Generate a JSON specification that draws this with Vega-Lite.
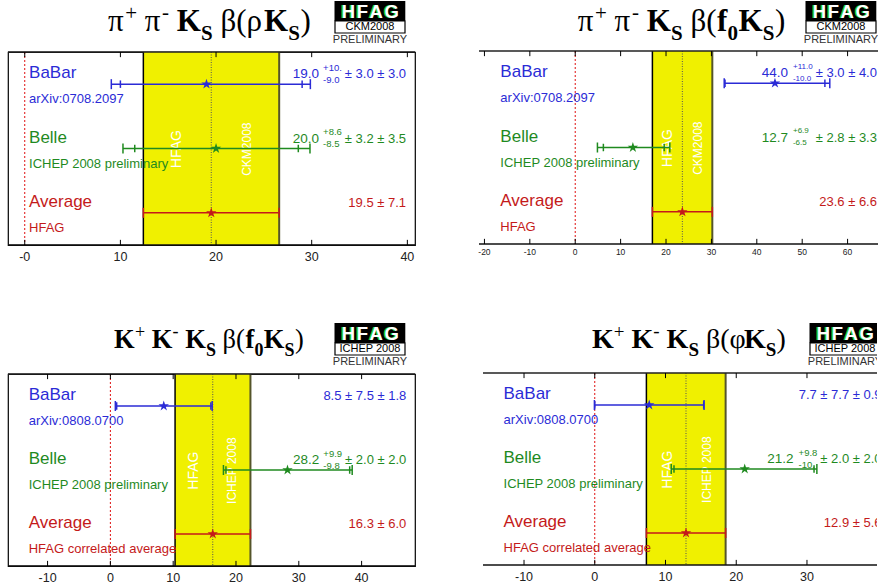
{
"$schema": "https://vega.github.io/schema/vega-lite/v6.json",
"padding": {"left": 6, "top": 0, "right": 0, "bottom": 0},
"config": {"view": {"stroke": null}, "font": "Liberation Sans"},
"datasets": {"rows": [
{"panel":"A","exp":"BaBar","name":"BaBar","ref":"arXiv:0708.2097","row":0.5,"val":19.0,"lo":9.05,"hi":29.86,"slo":10.0,"shi":29.0,"vm":"19.0","vu":"+10.","vd":"-9.0","vt":"± 3.0 ± 3.0"},
{"panel":"A","exp":"Belle","name":"Belle","ref":"ICHEP 2008 preliminary","row":1.5,"val":20.0,"lo":10.27,"hi":29.82,"slo":11.5,"shi":28.6,"vm":"20.0","vu":"+8.6","vd":"-8.5","vt":"± 3.2 ± 3.5"},
{"panel":"A","exp":"Average","name":"Average","ref":"HFAG","row":2.5,"val":19.5,"lo":12.4,"hi":26.6,"vm":"","vu":"","vd":"","vt":"19.5 ± 7.1"},
{"panel":"B","exp":"BaBar","name":"BaBar","ref":"arXiv:0708.2097","row":0.5,"val":44.0,"lo":32.82,"hi":56.08,"slo":33.0,"shi":55.0,"vm":"44.0","vu":"+11.0","vd":"-10.0","vt":"± 3.0 ± 4.0"},
{"panel":"B","exp":"Belle","name":"Belle","ref":"ICHEP 2008 preliminary","row":1.5,"val":12.7,"lo":4.89,"hi":20.84,"slo":6.2,"shi":19.6,"vm":"12.7","vu":"+6.9","vd":"-6.5","vt":"± 2.8 ± 3.3"},
{"panel":"B","exp":"Average","name":"Average","ref":"HFAG","row":2.5,"val":23.6,"lo":17.0,"hi":30.2,"vm":"","vu":"","vd":"","vt":"23.6 ± 6.6"},
{"panel":"C","exp":"BaBar","name":"BaBar","ref":"arXiv:0808.0700","row":0.5,"val":8.5,"lo":0.79,"hi":16.21,"slo":1.0,"shi":16.0,"vm":"","vu":"","vd":"","vt":"8.5 ± 7.5 ± 1.8"},
{"panel":"C","exp":"Belle","name":"Belle","ref":"ICHEP 2008 preliminary","row":1.5,"val":28.2,"lo":18.0,"hi":38.5,"slo":18.4,"shi":38.1,"vm":"28.2","vu":"+9.9","vd":"-9.8","vt":"± 2.0 ± 2.0"},
{"panel":"C","exp":"Average","name":"Average","ref":"HFAG correlated average","row":2.5,"val":16.3,"lo":10.3,"hi":22.3,"vm":"","vu":"","vd":"","vt":"16.3 ± 6.0"},
{"panel":"D","exp":"BaBar","name":"BaBar","ref":"arXiv:0808.0700","row":0.5,"val":7.7,"lo":-0.05,"hi":15.45,"slo":0.0,"shi":15.4,"vm":"","vu":"","vd":"","vt":"7.7 ± 7.7 ± 0.9"},
{"panel":"D","exp":"Belle","name":"Belle","ref":"ICHEP 2008 preliminary","row":1.5,"val":21.2,"lo":10.81,"hi":31.4,"slo":11.2,"shi":31.0,"vm":"21.2","vu":"+9.8","vd":"-10.","vt":"± 2.0 ± 2.0"},
{"panel":"D","exp":"Average","name":"Average","ref":"HFAG correlated average","row":2.5,"val":12.9,"lo":7.3,"hi":18.5,"vm":"","vu":"","vd":"","vt":"12.9 ± 5.6"}
],
"ticks": [
{"panel":"A","t":0,"lab":"-0"},{"panel":"A","t":10,"lab":"10"},{"panel":"A","t":20,"lab":"20"},{"panel":"A","t":30,"lab":"30"},{"panel":"A","t":40,"lab":"40"},
{"panel":"B","t":-20,"lab":"-20"},{"panel":"B","t":-10,"lab":"-10"},{"panel":"B","t":0,"lab":"0"},{"panel":"B","t":10,"lab":"10"},{"panel":"B","t":20,"lab":"20"},{"panel":"B","t":30,"lab":"30"},{"panel":"B","t":40,"lab":"40"},{"panel":"B","t":50,"lab":"50"},{"panel":"B","t":60,"lab":"60"},
{"panel":"C","t":-10,"lab":"-10"},{"panel":"C","t":0,"lab":"0"},{"panel":"C","t":10,"lab":"10"},{"panel":"C","t":20,"lab":"20"},{"panel":"C","t":30,"lab":"30"},{"panel":"C","t":40,"lab":"40"},
{"panel":"D","t":-10,"lab":"-10"},{"panel":"D","t":0,"lab":"0"},{"panel":"D","t":10,"lab":"10"},{"panel":"D","t":20,"lab":"20"},{"panel":"D","t":30,"lab":"30"}
]},
"spacing": 57,
"vconcat": [
{"spacing": 61, "hconcat": [
{"spacing": 2, "vconcat": [
{"width": 407, "height": 48, "data": {"values": [{}]}, "layer": [
{"mark": {"type": "rect", "color": "#000", "clip": true}, "encoding": {"x": {"datum": 326.5, "type": "quantitative", "scale": {"domain": [0, 407], "nice": false, "zero": false}, "axis": null}, "x2": {"datum": 397.3}, "y": {"datum": 1, "type": "quantitative", "scale": {"domain": [0, 48], "reverse": true, "nice": false, "zero": false}, "axis": {"title": null, "labels": false, "ticks": false, "domain": false, "grid": false, "minExtent": 4, "maxExtent": 4}}, "y2": {"datum": 21}}},
{"mark": {"type": "rect", "fill": "#fff", "stroke": "#000", "strokeWidth": 1.2, "clip": true}, "encoding": {"x": {"datum": 327, "axis": null}, "x2": {"datum": 397}, "y": {"datum": 21, "axis": null}, "y2": {"datum": 33}}},
{"mark": {"type": "text", "text": "H\u200aF\u200aA\u200aG", "fontWeight": "bold", "fontSize": 18.5, "color": "#22cc22", "align": "center", "baseline": "middle", "dx": -1.2, "clip": true}, "encoding": {"x": {"datum": 362, "axis": null}, "y": {"datum": 11.5, "axis": null}}},
{"mark": {"type": "text", "text": "H\u200aF\u200aA\u200aG", "fontWeight": "bold", "fontSize": 18.5, "color": "#ffffff", "align": "center", "baseline": "middle", "dx": 0.3, "clip": true}, "encoding": {"x": {"datum": 362, "axis": null}, "y": {"datum": 11.5, "axis": null}}},
{"mark": {"type": "text", "text": "CKM2008", "fontSize": 11, "color": "#000", "align": "center", "baseline": "middle", "clip": true}, "encoding": {"x": {"datum": 362, "axis": null}, "y": {"datum": 27.3, "axis": null}}},
{"mark": {"type": "text", "text": "PRELIMINARY", "fontSize": 11, "color": "#333", "align": "center", "baseline": "middle", "clip": true}, "encoding": {"x": {"datum": 362, "axis": null}, "y": {"datum": 40.3, "axis": null}}},
{"mark": {"type": "text", "text": "π", "font": "Liberation Serif", "fontSize": 31, "align": "left", "baseline": "alphabetic", "color": "#000", "clip": true}, "encoding": {"x": {"datum": 100, "axis": null}, "y": {"datum": 31, "axis": null}}},
{"mark": {"type": "text", "text": "+", "font": "Liberation Serif", "fontSize": 21, "align": "left", "baseline": "alphabetic", "color": "#000", "clip": true}, "encoding": {"x": {"datum": 117.3, "axis": null}, "y": {"datum": 20, "axis": null}}},
{"mark": {"type": "text", "text": "π", "font": "Liberation Serif", "fontSize": 31, "align": "left", "baseline": "alphabetic", "color": "#000", "clip": true}, "encoding": {"x": {"datum": 136.8, "axis": null}, "y": {"datum": 31, "axis": null}}},
{"mark": {"type": "text", "text": "-", "font": "Liberation Serif", "fontSize": 21, "align": "left", "baseline": "alphabetic", "color": "#000", "clip": true}, "encoding": {"x": {"datum": 154, "axis": null}, "y": {"datum": 18.5, "axis": null}}},
{"mark": {"type": "text", "text": "K", "font": "Liberation Serif", "fontWeight": "bold", "fontSize": 31, "align": "left", "baseline": "alphabetic", "color": "#000", "clip": true}, "encoding": {"x": {"datum": 168.8, "axis": null}, "y": {"datum": 31, "axis": null}}},
{"mark": {"type": "text", "text": "S", "font": "Liberation Serif", "fontWeight": "bold", "fontSize": 21, "align": "left", "baseline": "alphabetic", "color": "#000", "clip": true}, "encoding": {"x": {"datum": 193, "axis": null}, "y": {"datum": 40, "axis": null}}},
{"mark": {"type": "text", "text": "β(ρ", "font": "Liberation Serif", "fontSize": 31, "align": "left", "baseline": "alphabetic", "color": "#000", "clip": true}, "encoding": {"x": {"datum": 212.5, "axis": null}, "y": {"datum": 31, "axis": null}}},
{"mark": {"type": "text", "text": "K", "font": "Liberation Serif", "fontWeight": "bold", "fontSize": 31, "align": "left", "baseline": "alphabetic", "color": "#000", "clip": true}, "encoding": {"x": {"datum": 256, "axis": null}, "y": {"datum": 31, "axis": null}}},
{"mark": {"type": "text", "text": "S", "font": "Liberation Serif", "fontWeight": "bold", "fontSize": 21, "align": "left", "baseline": "alphabetic", "color": "#000", "clip": true}, "encoding": {"x": {"datum": 280.3, "axis": null}, "y": {"datum": 40, "axis": null}}},
{"mark": {"type": "text", "text": ")", "font": "Liberation Serif", "fontSize": 31, "align": "left", "baseline": "alphabetic", "color": "#000", "clip": true}, "encoding": {"x": {"datum": 292.5, "axis": null}, "y": {"datum": 31, "axis": null}}}
]},
{"width": 407, "height": 193, "view": {"stroke": "#000", "strokeWidth": 1.2}, "data": {"name": "rows"}, "transform": [{"filter": {"field": "panel", "equal": "A"}}], "layer": [
{"transform": [{"filter": {"field": "exp", "equal": "Average"}}], "mark": {"type": "rect", "color": "#f0f000"}, "encoding": {"x": {"field": "lo", "type": "quantitative", "scale": {"domain": [-1.75, 40.8], "nice": false, "zero": false}, "axis": null}, "x2": {"field": "hi"}}},
{"transform": [{"filter": {"field": "exp", "equal": "Average"}}], "mark": {"type": "rule", "color": "#000", "strokeWidth": 1.5}, "encoding": {"x": {"field": "lo", "type": "quantitative", "axis": null}}},
{"transform": [{"filter": {"field": "exp", "equal": "Average"}}], "mark": {"type": "rule", "color": "#55552a", "strokeWidth": 2}, "encoding": {"x": {"field": "hi", "type": "quantitative", "axis": null}}},
{"transform": [{"filter": {"field": "exp", "equal": "Average"}}], "mark": {"type": "rule", "color": "#555", "strokeWidth": 1, "strokeDash": [1, 1.5]}, "encoding": {"x": {"field": "val", "type": "quantitative", "axis": null}}},
{"transform": [{"filter": {"field": "exp", "equal": "Average"}}], "mark": {"type": "rule", "color": "#e01010", "strokeWidth": 1, "strokeDash": [2, 2]}, "encoding": {"x": {"datum": 0, "type": "quantitative", "axis": null}}},
{"transform": [{"filter": {"field": "exp", "equal": "Average"}}], "mark": {"type": "text", "text": "HFAG", "angle": 270, "color": "#fff", "fontSize": 14, "align": "center", "baseline": "middle"}, "encoding": {"x": {"datum": 15.9, "axis": null}, "y": {"datum": 1.51, "axis": null}}},
{"transform": [{"filter": {"field": "exp", "equal": "Average"}}], "mark": {"type": "text", "text": "CKM2008", "angle": 270, "color": "#fff", "fontSize": 12, "align": "center", "baseline": "middle"}, "encoding": {"x": {"datum": 23.2, "axis": null}, "y": {"datum": 1.51, "axis": null}}},
{"transform": [{"filter": {"field": "exp", "equal": "Average"}}], "mark": {"type": "rule", "color": "#222", "strokeWidth": 1.5}, "encoding": {"y": {"datum": 0, "axis": null}}},
{"transform": [{"filter": {"field": "exp", "equal": "Average"}}], "mark": {"type": "rule", "color": "#111", "strokeWidth": 1.5}, "encoding": {"y": {"datum": 3, "axis": null}}},
{"data": {"name": "ticks"}, "transform": [{"filter": {"field": "panel", "equal": "A"}}], "mark": {"type": "rule", "color": "#000", "strokeWidth": 1}, "encoding": {"x": {"field": "t", "type": "quantitative", "axis": null}, "y": {"datum": 3, "axis": null}, "y2": {"datum": 2.92}}},
{"data": {"name": "ticks"}, "transform": [{"filter": {"field": "panel", "equal": "A"}}], "mark": {"type": "rule", "color": "#000", "strokeWidth": 1}, "encoding": {"x": {"field": "t", "type": "quantitative", "axis": null}, "y": {"datum": 0, "axis": null}, "y2": {"datum": 0.08}}},
{"data": {"name": "ticks"}, "transform": [{"filter": {"field": "panel", "equal": "A"}}], "mark": {"type": "text", "align": "center", "baseline": "top", "dy": 6, "fontSize": 12.5, "color": "#222"}, "encoding": {"x": {"field": "t", "type": "quantitative", "axis": null}, "y": {"datum": 3, "axis": null}, "text": {"field": "lab"}}},
{"mark": {"type": "rule", "strokeWidth": 1.5}, "encoding": {"x": {"field": "lo", "type": "quantitative", "axis": null}, "x2": {"field": "hi"}, "y": {"field": "row", "type": "quantitative", "scale": {"domain": [0, 3], "reverse": true, "nice": false, "zero": false}, "axis": {"title": null, "labels": false, "ticks": false, "grid": false, "domain": false, "minExtent": 4, "maxExtent": 4}}, "color": {"field": "exp", "type": "nominal", "scale": {"domain": ["BaBar", "Belle", "Average"], "range": ["#2b2bd6", "#1f8a1f", "#c41a1a"]}, "legend": null}}},
{"mark": {"type": "point", "shape": "M0,-1L0,1", "filled": false, "size": 100, "strokeWidth": 1.5, "opacity": 1}, "encoding": {"x": {"field": "lo", "type": "quantitative", "axis": null}, "y": {"field": "row", "type": "quantitative", "axis": null}, "color": {"field": "exp", "type": "nominal", "legend": null}}},
{"mark": {"type": "point", "shape": "M0,-1L0,1", "filled": false, "size": 100, "strokeWidth": 1.5, "opacity": 1}, "encoding": {"x": {"field": "hi", "type": "quantitative", "axis": null}, "y": {"field": "row", "type": "quantitative", "axis": null}, "color": {"field": "exp", "type": "nominal", "legend": null}}},
{"mark": {"type": "point", "shape": "M0,-1L0,1", "filled": false, "size": 56, "strokeWidth": 1.5, "opacity": 1}, "encoding": {"x": {"field": "slo", "type": "quantitative", "axis": null}, "y": {"field": "row", "type": "quantitative", "axis": null}, "color": {"field": "exp", "type": "nominal", "legend": null}}},
{"mark": {"type": "point", "shape": "M0,-1L0,1", "filled": false, "size": 56, "strokeWidth": 1.5, "opacity": 1}, "encoding": {"x": {"field": "shi", "type": "quantitative", "axis": null}, "y": {"field": "row", "type": "quantitative", "axis": null}, "color": {"field": "exp", "type": "nominal", "legend": null}}},
{"mark": {"type": "point", "shape": "M0,-1L0.2245,-0.309L0.951,-0.309L0.363,0.118L0.588,0.809L0,0.382L-0.588,0.809L-0.363,0.118L-0.951,-0.309L-0.2245,-0.309Z", "filled": true, "size": 120, "opacity": 1}, "encoding": {"x": {"field": "val", "type": "quantitative", "axis": null}, "y": {"field": "row", "type": "quantitative", "axis": null}, "color": {"field": "exp", "type": "nominal", "legend": null}}},
{"mark": {"type": "text", "align": "left", "baseline": "middle", "dy": -11, "fontSize": 17}, "encoding": {"x": {"datum": 0.45, "axis": null}, "y": {"field": "row", "type": "quantitative", "axis": null}, "text": {"field": "name"}, "color": {"field": "exp", "type": "nominal", "legend": null}}},
{"mark": {"type": "text", "align": "left", "baseline": "middle", "dy": 15, "fontSize": 13}, "encoding": {"x": {"datum": 0.45, "axis": null}, "y": {"field": "row", "type": "quantitative", "axis": null}, "text": {"field": "ref"}, "color": {"field": "exp", "type": "nominal", "legend": null}}},
{"mark": {"type": "text", "align": "right", "baseline": "middle", "dx": -87, "dy": -10, "fontSize": 13.5}, "encoding": {"x": {"datum": 39.87, "axis": null}, "y": {"field": "row", "type": "quantitative", "axis": null}, "text": {"field": "vm"}, "color": {"field": "exp", "type": "nominal", "legend": null}}},
{"mark": {"type": "text", "align": "left", "baseline": "middle", "dx": -83, "dy": -16.5, "fontSize": 9.5}, "encoding": {"x": {"datum": 39.87, "axis": null}, "y": {"field": "row", "type": "quantitative", "axis": null}, "text": {"field": "vu"}, "color": {"field": "exp", "type": "nominal", "legend": null}}},
{"mark": {"type": "text", "align": "left", "baseline": "middle", "dx": -83, "dy": -4.5, "fontSize": 9.5}, "encoding": {"x": {"datum": 39.87, "axis": null}, "y": {"field": "row", "type": "quantitative", "axis": null}, "text": {"field": "vd"}, "color": {"field": "exp", "type": "nominal", "legend": null}}},
{"mark": {"type": "text", "align": "right", "baseline": "middle", "dy": -10, "fontSize": 13}, "encoding": {"x": {"datum": 39.87, "axis": null}, "y": {"field": "row", "type": "quantitative", "axis": null}, "text": {"field": "vt"}, "color": {"field": "exp", "type": "nominal", "legend": null}}}
]}
]},
{"spacing": 2, "vconcat": [
{"width": 399, "height": 48, "data": {"values": [{}]}, "layer": [
{"mark": {"type": "rect", "color": "#000", "clip": true}, "encoding": {"x": {"datum": 326.5, "type": "quantitative", "scale": {"domain": [0, 399], "nice": false, "zero": false}, "axis": null}, "x2": {"datum": 397.3}, "y": {"datum": 1, "type": "quantitative", "scale": {"domain": [0, 48], "reverse": true, "nice": false, "zero": false}, "axis": null}, "y2": {"datum": 21}}},
{"mark": {"type": "rect", "fill": "#fff", "stroke": "#000", "strokeWidth": 1.2, "clip": true}, "encoding": {"x": {"datum": 327, "axis": null}, "x2": {"datum": 397}, "y": {"datum": 21, "axis": null}, "y2": {"datum": 33}}},
{"mark": {"type": "text", "text": "H\u200aF\u200aA\u200aG", "fontWeight": "bold", "fontSize": 18.5, "color": "#22cc22", "align": "center", "baseline": "middle", "dx": -1.2, "clip": true}, "encoding": {"x": {"datum": 362, "axis": null}, "y": {"datum": 11.5, "axis": null}}},
{"mark": {"type": "text", "text": "H\u200aF\u200aA\u200aG", "fontWeight": "bold", "fontSize": 18.5, "color": "#ffffff", "align": "center", "baseline": "middle", "dx": 0.3, "clip": true}, "encoding": {"x": {"datum": 362, "axis": null}, "y": {"datum": 11.5, "axis": null}}},
{"mark": {"type": "text", "text": "CKM2008", "fontSize": 11, "color": "#000", "align": "center", "baseline": "middle", "clip": true}, "encoding": {"x": {"datum": 362, "axis": null}, "y": {"datum": 27.3, "axis": null}}},
{"mark": {"type": "text", "text": "PRELIMINARY", "fontSize": 11, "color": "#333", "align": "center", "baseline": "middle", "clip": true}, "encoding": {"x": {"datum": 362, "axis": null}, "y": {"datum": 40.3, "axis": null}}},
{"mark": {"type": "text", "text": "π", "font": "Liberation Serif", "fontSize": 31, "align": "left", "baseline": "alphabetic", "color": "#000", "clip": true}, "encoding": {"x": {"datum": 98.7, "axis": null}, "y": {"datum": 31, "axis": null}}},
{"mark": {"type": "text", "text": "+", "font": "Liberation Serif", "fontSize": 21, "align": "left", "baseline": "alphabetic", "color": "#000", "clip": true}, "encoding": {"x": {"datum": 116, "axis": null}, "y": {"datum": 20, "axis": null}}},
{"mark": {"type": "text", "text": "π", "font": "Liberation Serif", "fontSize": 31, "align": "left", "baseline": "alphabetic", "color": "#000", "clip": true}, "encoding": {"x": {"datum": 135.5, "axis": null}, "y": {"datum": 31, "axis": null}}},
{"mark": {"type": "text", "text": "-", "font": "Liberation Serif", "fontSize": 21, "align": "left", "baseline": "alphabetic", "color": "#000", "clip": true}, "encoding": {"x": {"datum": 153, "axis": null}, "y": {"datum": 18.5, "axis": null}}},
{"mark": {"type": "text", "text": "K", "font": "Liberation Serif", "fontWeight": "bold", "fontSize": 31, "align": "left", "baseline": "alphabetic", "color": "#000", "clip": true}, "encoding": {"x": {"datum": 167.8, "axis": null}, "y": {"datum": 31, "axis": null}}},
{"mark": {"type": "text", "text": "S", "font": "Liberation Serif", "fontWeight": "bold", "fontSize": 21, "align": "left", "baseline": "alphabetic", "color": "#000", "clip": true}, "encoding": {"x": {"datum": 192, "axis": null}, "y": {"datum": 40, "axis": null}}},
{"mark": {"type": "text", "text": "β(", "font": "Liberation Serif", "fontSize": 31, "align": "left", "baseline": "alphabetic", "color": "#000", "clip": true}, "encoding": {"x": {"datum": 211.5, "axis": null}, "y": {"datum": 31, "axis": null}}},
{"mark": {"type": "text", "text": "f", "font": "Liberation Serif", "fontWeight": "bold", "fontSize": 31, "align": "left", "baseline": "alphabetic", "color": "#000", "clip": true}, "encoding": {"x": {"datum": 238, "axis": null}, "y": {"datum": 31, "axis": null}}},
{"mark": {"type": "text", "text": "0", "font": "Liberation Serif", "fontWeight": "bold", "fontSize": 21, "align": "left", "baseline": "alphabetic", "color": "#000", "clip": true}, "encoding": {"x": {"datum": 248.5, "axis": null}, "y": {"datum": 40, "axis": null}}},
{"mark": {"type": "text", "text": "K", "font": "Liberation Serif", "fontWeight": "bold", "fontSize": 31, "align": "left", "baseline": "alphabetic", "color": "#000", "clip": true}, "encoding": {"x": {"datum": 259.5, "axis": null}, "y": {"datum": 31, "axis": null}}},
{"mark": {"type": "text", "text": "S", "font": "Liberation Serif", "fontWeight": "bold", "fontSize": 21, "align": "left", "baseline": "alphabetic", "color": "#000", "clip": true}, "encoding": {"x": {"datum": 283.8, "axis": null}, "y": {"datum": 40, "axis": null}}},
{"mark": {"type": "text", "text": ")", "font": "Liberation Serif", "fontSize": 31, "align": "left", "baseline": "alphabetic", "color": "#000", "clip": true}, "encoding": {"x": {"datum": 296, "axis": null}, "y": {"datum": 31, "axis": null}}}
]},
{"width": 399, "height": 193, "data": {"name": "rows"}, "transform": [{"filter": {"field": "panel", "equal": "B"}}], "layer": [
{"transform": [{"filter": {"field": "exp", "equal": "Average"}}], "mark": {"type": "rect", "color": "#f0f000"}, "encoding": {"x": {"field": "lo", "type": "quantitative", "scale": {"domain": [-21.2, 66.7], "nice": false, "zero": false}, "axis": null}, "x2": {"field": "hi"}}},
{"transform": [{"filter": {"field": "exp", "equal": "Average"}}], "mark": {"type": "rule", "color": "#000", "strokeWidth": 1.5}, "encoding": {"x": {"field": "lo", "type": "quantitative", "axis": null}}},
{"transform": [{"filter": {"field": "exp", "equal": "Average"}}], "mark": {"type": "rule", "color": "#55552a", "strokeWidth": 2}, "encoding": {"x": {"field": "hi", "type": "quantitative", "axis": null}}},
{"transform": [{"filter": {"field": "exp", "equal": "Average"}}], "mark": {"type": "rule", "color": "#555", "strokeWidth": 1, "strokeDash": [1, 1.5]}, "encoding": {"x": {"field": "val", "type": "quantitative", "axis": null}}},
{"transform": [{"filter": {"field": "exp", "equal": "Average"}}], "mark": {"type": "rule", "color": "#e01010", "strokeWidth": 1, "strokeDash": [2, 2]}, "encoding": {"x": {"datum": 0, "type": "quantitative", "axis": null}}},
{"transform": [{"filter": {"field": "exp", "equal": "Average"}}], "mark": {"type": "text", "text": "HFAG", "angle": 270, "color": "#fff", "fontSize": 14, "align": "center", "baseline": "middle"}, "encoding": {"x": {"datum": 20.5, "axis": null}, "y": {"datum": 1.51, "axis": null}}},
{"transform": [{"filter": {"field": "exp", "equal": "Average"}}], "mark": {"type": "text", "text": "CKM2008", "angle": 270, "color": "#fff", "fontSize": 12, "align": "center", "baseline": "middle"}, "encoding": {"x": {"datum": 27.1, "axis": null}, "y": {"datum": 1.51, "axis": null}}},
{"transform": [{"filter": {"field": "exp", "equal": "Average"}}], "mark": {"type": "rule", "color": "#222", "strokeWidth": 1.5}, "encoding": {"y": {"datum": 0, "axis": null}}},
{"transform": [{"filter": {"field": "exp", "equal": "Average"}}], "mark": {"type": "rule", "color": "#111", "strokeWidth": 1.5}, "encoding": {"y": {"datum": 3, "axis": null}}},
{"data": {"name": "ticks"}, "transform": [{"filter": {"field": "panel", "equal": "B"}}], "mark": {"type": "rule", "color": "#000", "strokeWidth": 1}, "encoding": {"x": {"field": "t", "type": "quantitative", "axis": null}, "y": {"datum": 3, "axis": null}, "y2": {"datum": 2.92}}},
{"data": {"name": "ticks"}, "transform": [{"filter": {"field": "panel", "equal": "B"}}], "mark": {"type": "rule", "color": "#000", "strokeWidth": 1}, "encoding": {"x": {"field": "t", "type": "quantitative", "axis": null}, "y": {"datum": 0, "axis": null}, "y2": {"datum": 0.08}}},
{"data": {"name": "ticks"}, "transform": [{"filter": {"field": "panel", "equal": "B"}}], "mark": {"type": "text", "align": "center", "baseline": "top", "dy": 4, "fontSize": 8.5, "color": "#222"}, "encoding": {"x": {"field": "t", "type": "quantitative", "axis": null}, "y": {"datum": 3, "axis": null}, "text": {"field": "lab"}}},
{"mark": {"type": "rule", "strokeWidth": 1.5}, "encoding": {"x": {"field": "lo", "type": "quantitative", "axis": null}, "x2": {"field": "hi"}, "y": {"field": "row", "type": "quantitative", "scale": {"domain": [0, 3], "reverse": true, "nice": false, "zero": false}, "axis": {"title": null, "labels": false, "ticks": false, "grid": false, "domain": true, "domainColor": "#000", "domainWidth": 1.2}}, "color": {"field": "exp", "type": "nominal", "scale": {"domain": ["BaBar", "Belle", "Average"], "range": ["#2b2bd6", "#1f8a1f", "#c41a1a"]}, "legend": null}}},
{"mark": {"type": "point", "shape": "M0,-1L0,1", "filled": false, "size": 100, "strokeWidth": 1.5, "opacity": 1}, "encoding": {"x": {"field": "lo", "type": "quantitative", "axis": null}, "y": {"field": "row", "type": "quantitative", "axis": null}, "color": {"field": "exp", "type": "nominal", "legend": null}}},
{"mark": {"type": "point", "shape": "M0,-1L0,1", "filled": false, "size": 100, "strokeWidth": 1.5, "opacity": 1}, "encoding": {"x": {"field": "hi", "type": "quantitative", "axis": null}, "y": {"field": "row", "type": "quantitative", "axis": null}, "color": {"field": "exp", "type": "nominal", "legend": null}}},
{"mark": {"type": "point", "shape": "M0,-1L0,1", "filled": false, "size": 56, "strokeWidth": 1.5, "opacity": 1}, "encoding": {"x": {"field": "slo", "type": "quantitative", "axis": null}, "y": {"field": "row", "type": "quantitative", "axis": null}, "color": {"field": "exp", "type": "nominal", "legend": null}}},
{"mark": {"type": "point", "shape": "M0,-1L0,1", "filled": false, "size": 56, "strokeWidth": 1.5, "opacity": 1}, "encoding": {"x": {"field": "shi", "type": "quantitative", "axis": null}, "y": {"field": "row", "type": "quantitative", "axis": null}, "color": {"field": "exp", "type": "nominal", "legend": null}}},
{"mark": {"type": "point", "shape": "M0,-1L0.2245,-0.309L0.951,-0.309L0.363,0.118L0.588,0.809L0,0.382L-0.588,0.809L-0.363,0.118L-0.951,-0.309L-0.2245,-0.309Z", "filled": true, "size": 120, "opacity": 1}, "encoding": {"x": {"field": "val", "type": "quantitative", "axis": null}, "y": {"field": "row", "type": "quantitative", "axis": null}, "color": {"field": "exp", "type": "nominal", "legend": null}}},
{"mark": {"type": "text", "align": "left", "baseline": "middle", "dy": -11, "fontSize": 17, "clip": true}, "encoding": {"x": {"datum": -16.5, "axis": null}, "y": {"field": "row", "type": "quantitative", "axis": null}, "text": {"field": "name"}, "color": {"field": "exp", "type": "nominal", "legend": null}}},
{"mark": {"type": "text", "align": "left", "baseline": "middle", "dy": 15, "fontSize": 13, "clip": true}, "encoding": {"x": {"datum": -16.5, "axis": null}, "y": {"field": "row", "type": "quantitative", "axis": null}, "text": {"field": "ref"}, "color": {"field": "exp", "type": "nominal", "legend": null}}},
{"mark": {"type": "text", "align": "right", "baseline": "middle", "dx": -89, "dy": -10, "fontSize": 13.5, "clip": true}, "encoding": {"x": {"datum": 66.47, "axis": null}, "y": {"field": "row", "type": "quantitative", "axis": null}, "text": {"field": "vm"}, "color": {"field": "exp", "type": "nominal", "legend": null}}},
{"mark": {"type": "text", "align": "left", "baseline": "middle", "dx": -84, "dy": -16.5, "fontSize": 8, "clip": true}, "encoding": {"x": {"datum": 66.47, "axis": null}, "y": {"field": "row", "type": "quantitative", "axis": null}, "text": {"field": "vu"}, "color": {"field": "exp", "type": "nominal", "legend": null}}},
{"mark": {"type": "text", "align": "left", "baseline": "middle", "dx": -84, "dy": -4.5, "fontSize": 8, "clip": true}, "encoding": {"x": {"datum": 66.47, "axis": null}, "y": {"field": "row", "type": "quantitative", "axis": null}, "text": {"field": "vd"}, "color": {"field": "exp", "type": "nominal", "legend": null}}},
{"mark": {"type": "text", "align": "right", "baseline": "middle", "dy": -10, "fontSize": 13, "clip": true}, "encoding": {"x": {"datum": 66.47, "axis": null}, "y": {"field": "row", "type": "quantitative", "axis": null}, "text": {"field": "vt"}, "color": {"field": "exp", "type": "nominal", "legend": null}}}
]}
]}
]},
{"spacing": 65, "hconcat": [
{"spacing": 2, "vconcat": [
{"width": 407, "height": 48, "data": {"values": [{}]}, "layer": [
{"mark": {"type": "rect", "color": "#000", "clip": true}, "encoding": {"x": {"datum": 326.5, "type": "quantitative", "scale": {"domain": [0, 407], "nice": false, "zero": false}, "axis": null}, "x2": {"datum": 397.3}, "y": {"datum": 1, "type": "quantitative", "scale": {"domain": [0, 48], "reverse": true, "nice": false, "zero": false}, "axis": null}, "y2": {"datum": 21}}},
{"mark": {"type": "rect", "fill": "#fff", "stroke": "#000", "strokeWidth": 1.2, "clip": true}, "encoding": {"x": {"datum": 327, "axis": null}, "x2": {"datum": 397}, "y": {"datum": 21, "axis": null}, "y2": {"datum": 33}}},
{"mark": {"type": "text", "text": "H\u200aF\u200aA\u200aG", "fontWeight": "bold", "fontSize": 18.5, "color": "#22cc22", "align": "center", "baseline": "middle", "dx": -1.2, "clip": true}, "encoding": {"x": {"datum": 362, "axis": null}, "y": {"datum": 11.5, "axis": null}}},
{"mark": {"type": "text", "text": "H\u200aF\u200aA\u200aG", "fontWeight": "bold", "fontSize": 18.5, "color": "#ffffff", "align": "center", "baseline": "middle", "dx": 0.3, "clip": true}, "encoding": {"x": {"datum": 362, "axis": null}, "y": {"datum": 11.5, "axis": null}}},
{"mark": {"type": "text", "text": "ICHEP 2008", "fontSize": 11, "color": "#000", "align": "center", "baseline": "middle", "clip": true}, "encoding": {"x": {"datum": 362, "axis": null}, "y": {"datum": 27.3, "axis": null}}},
{"mark": {"type": "text", "text": "PRELIMINARY", "fontSize": 11, "color": "#333", "align": "center", "baseline": "middle", "clip": true}, "encoding": {"x": {"datum": 362, "axis": null}, "y": {"datum": 40.3, "axis": null}}},
{"mark": {"type": "text", "text": "K", "font": "Liberation Serif", "fontWeight": "bold", "fontSize": 26.5, "align": "left", "baseline": "alphabetic", "color": "#000", "clip": true}, "encoding": {"x": {"datum": 106, "axis": null}, "y": {"datum": 26, "axis": null}}},
{"mark": {"type": "text", "text": "+", "font": "Liberation Serif", "fontSize": 18, "align": "left", "baseline": "alphabetic", "color": "#000", "clip": true}, "encoding": {"x": {"datum": 126.9, "axis": null}, "y": {"datum": 15.5, "axis": null}}},
{"mark": {"type": "text", "text": "K", "font": "Liberation Serif", "fontWeight": "bold", "fontSize": 26.5, "align": "left", "baseline": "alphabetic", "color": "#000", "clip": true}, "encoding": {"x": {"datum": 143.7, "axis": null}, "y": {"datum": 26, "axis": null}}},
{"mark": {"type": "text", "text": "-", "font": "Liberation Serif", "fontSize": 18, "align": "left", "baseline": "alphabetic", "color": "#000", "clip": true}, "encoding": {"x": {"datum": 164.6, "axis": null}, "y": {"datum": 14.5, "axis": null}}},
{"mark": {"type": "text", "text": "K", "font": "Liberation Serif", "fontWeight": "bold", "fontSize": 26.5, "align": "left", "baseline": "alphabetic", "color": "#000", "clip": true}, "encoding": {"x": {"datum": 177.2, "axis": null}, "y": {"datum": 26, "axis": null}}},
{"mark": {"type": "text", "text": "S", "font": "Liberation Serif", "fontWeight": "bold", "fontSize": 18, "align": "left", "baseline": "alphabetic", "color": "#000", "clip": true}, "encoding": {"x": {"datum": 198, "axis": null}, "y": {"datum": 34, "axis": null}}},
{"mark": {"type": "text", "text": "β(", "font": "Liberation Serif", "fontSize": 26.5, "align": "left", "baseline": "alphabetic", "color": "#000", "clip": true}, "encoding": {"x": {"datum": 214.6, "axis": null}, "y": {"datum": 26, "axis": null}}},
{"mark": {"type": "text", "text": "f", "font": "Liberation Serif", "fontWeight": "bold", "fontSize": 26.5, "align": "left", "baseline": "alphabetic", "color": "#000", "clip": true}, "encoding": {"x": {"datum": 237.4, "axis": null}, "y": {"datum": 26, "axis": null}}},
{"mark": {"type": "text", "text": "0", "font": "Liberation Serif", "fontWeight": "bold", "fontSize": 18, "align": "left", "baseline": "alphabetic", "color": "#000", "clip": true}, "encoding": {"x": {"datum": 246.4, "axis": null}, "y": {"datum": 34, "axis": null}}},
{"mark": {"type": "text", "text": "K", "font": "Liberation Serif", "fontWeight": "bold", "fontSize": 26.5, "align": "left", "baseline": "alphabetic", "color": "#000", "clip": true}, "encoding": {"x": {"datum": 255.7, "axis": null}, "y": {"datum": 26, "axis": null}}},
{"mark": {"type": "text", "text": "S", "font": "Liberation Serif", "fontWeight": "bold", "fontSize": 18, "align": "left", "baseline": "alphabetic", "color": "#000", "clip": true}, "encoding": {"x": {"datum": 276.5, "axis": null}, "y": {"datum": 34, "axis": null}}},
{"mark": {"type": "text", "text": ")", "font": "Liberation Serif", "fontSize": 26.5, "align": "left", "baseline": "alphabetic", "color": "#000", "clip": true}, "encoding": {"x": {"datum": 287, "axis": null}, "y": {"datum": 26, "axis": null}}}
]},
{"width": 407, "height": 192, "view": {"stroke": "#000", "strokeWidth": 1.2}, "data": {"name": "rows"}, "transform": [{"filter": {"field": "panel", "equal": "C"}}], "layer": [
{"transform": [{"filter": {"field": "exp", "equal": "Average"}}], "mark": {"type": "rect", "color": "#f0f000"}, "encoding": {"x": {"field": "lo", "type": "quantitative", "scale": {"domain": [-16.3, 48.5], "nice": false, "zero": false}, "axis": null}, "x2": {"field": "hi"}}},
{"transform": [{"filter": {"field": "exp", "equal": "Average"}}], "mark": {"type": "rule", "color": "#000", "strokeWidth": 1.5}, "encoding": {"x": {"field": "lo", "type": "quantitative", "axis": null}}},
{"transform": [{"filter": {"field": "exp", "equal": "Average"}}], "mark": {"type": "rule", "color": "#55552a", "strokeWidth": 2}, "encoding": {"x": {"field": "hi", "type": "quantitative", "axis": null}}},
{"transform": [{"filter": {"field": "exp", "equal": "Average"}}], "mark": {"type": "rule", "color": "#555", "strokeWidth": 1, "strokeDash": [1, 1.5]}, "encoding": {"x": {"field": "val", "type": "quantitative", "axis": null}}},
{"transform": [{"filter": {"field": "exp", "equal": "Average"}}], "mark": {"type": "rule", "color": "#e01010", "strokeWidth": 1, "strokeDash": [2, 2]}, "encoding": {"x": {"datum": 0, "type": "quantitative", "axis": null}}},
{"transform": [{"filter": {"field": "exp", "equal": "Average"}}], "mark": {"type": "text", "text": "HFAG", "angle": 270, "color": "#fff", "fontSize": 14, "align": "center", "baseline": "middle"}, "encoding": {"x": {"datum": 13.3, "axis": null}, "y": {"datum": 1.51, "axis": null}}},
{"transform": [{"filter": {"field": "exp", "equal": "Average"}}], "mark": {"type": "text", "text": "ICHEP 2008", "angle": 270, "color": "#fff", "fontSize": 12, "align": "center", "baseline": "middle"}, "encoding": {"x": {"datum": 19.3, "axis": null}, "y": {"datum": 1.51, "axis": null}}},
{"transform": [{"filter": {"field": "exp", "equal": "Average"}}], "mark": {"type": "rule", "color": "#222", "strokeWidth": 1.5}, "encoding": {"y": {"datum": 0, "axis": null}}},
{"transform": [{"filter": {"field": "exp", "equal": "Average"}}], "mark": {"type": "rule", "color": "#111", "strokeWidth": 1.5}, "encoding": {"y": {"datum": 3, "axis": null}}},
{"data": {"name": "ticks"}, "transform": [{"filter": {"field": "panel", "equal": "C"}}], "mark": {"type": "rule", "color": "#000", "strokeWidth": 1}, "encoding": {"x": {"field": "t", "type": "quantitative", "axis": null}, "y": {"datum": 3, "axis": null}, "y2": {"datum": 2.92}}},
{"data": {"name": "ticks"}, "transform": [{"filter": {"field": "panel", "equal": "C"}}], "mark": {"type": "rule", "color": "#000", "strokeWidth": 1}, "encoding": {"x": {"field": "t", "type": "quantitative", "axis": null}, "y": {"datum": 0, "axis": null}, "y2": {"datum": 0.08}}},
{"data": {"name": "ticks"}, "transform": [{"filter": {"field": "panel", "equal": "C"}}], "mark": {"type": "text", "align": "center", "baseline": "top", "dy": 6, "fontSize": 12.5, "color": "#222"}, "encoding": {"x": {"field": "t", "type": "quantitative", "axis": null}, "y": {"datum": 3, "axis": null}, "text": {"field": "lab"}}},
{"mark": {"type": "rule", "strokeWidth": 1.5}, "encoding": {"x": {"field": "lo", "type": "quantitative", "axis": null}, "x2": {"field": "hi"}, "y": {"field": "row", "type": "quantitative", "scale": {"domain": [0, 3], "reverse": true, "nice": false, "zero": false}, "axis": null}, "color": {"field": "exp", "type": "nominal", "scale": {"domain": ["BaBar", "Belle", "Average"], "range": ["#2b2bd6", "#1f8a1f", "#c41a1a"]}, "legend": null}}},
{"mark": {"type": "point", "shape": "M0,-1L0,1", "filled": false, "size": 100, "strokeWidth": 1.5, "opacity": 1}, "encoding": {"x": {"field": "lo", "type": "quantitative", "axis": null}, "y": {"field": "row", "type": "quantitative", "axis": null}, "color": {"field": "exp", "type": "nominal", "legend": null}}},
{"mark": {"type": "point", "shape": "M0,-1L0,1", "filled": false, "size": 100, "strokeWidth": 1.5, "opacity": 1}, "encoding": {"x": {"field": "hi", "type": "quantitative", "axis": null}, "y": {"field": "row", "type": "quantitative", "axis": null}, "color": {"field": "exp", "type": "nominal", "legend": null}}},
{"mark": {"type": "point", "shape": "M0,-1L0,1", "filled": false, "size": 56, "strokeWidth": 1.5, "opacity": 1}, "encoding": {"x": {"field": "slo", "type": "quantitative", "axis": null}, "y": {"field": "row", "type": "quantitative", "axis": null}, "color": {"field": "exp", "type": "nominal", "legend": null}}},
{"mark": {"type": "point", "shape": "M0,-1L0,1", "filled": false, "size": 56, "strokeWidth": 1.5, "opacity": 1}, "encoding": {"x": {"field": "shi", "type": "quantitative", "axis": null}, "y": {"field": "row", "type": "quantitative", "axis": null}, "color": {"field": "exp", "type": "nominal", "legend": null}}},
{"mark": {"type": "point", "shape": "M0,-1L0.2245,-0.309L0.951,-0.309L0.363,0.118L0.588,0.809L0,0.382L-0.588,0.809L-0.363,0.118L-0.951,-0.309L-0.2245,-0.309Z", "filled": true, "size": 120, "opacity": 1}, "encoding": {"x": {"field": "val", "type": "quantitative", "axis": null}, "y": {"field": "row", "type": "quantitative", "axis": null}, "color": {"field": "exp", "type": "nominal", "legend": null}}},
{"mark": {"type": "text", "align": "left", "baseline": "middle", "dy": -11, "fontSize": 17}, "encoding": {"x": {"datum": -13.0, "axis": null}, "y": {"field": "row", "type": "quantitative", "axis": null}, "text": {"field": "name"}, "color": {"field": "exp", "type": "nominal", "legend": null}}},
{"mark": {"type": "text", "align": "left", "baseline": "middle", "dy": 15, "fontSize": 13}, "encoding": {"x": {"datum": -13.0, "axis": null}, "y": {"field": "row", "type": "quantitative", "axis": null}, "text": {"field": "ref"}, "color": {"field": "exp", "type": "nominal", "legend": null}}},
{"mark": {"type": "text", "align": "right", "baseline": "middle", "dx": -87, "dy": -10, "fontSize": 13.5}, "encoding": {"x": {"datum": 47.12, "axis": null}, "y": {"field": "row", "type": "quantitative", "axis": null}, "text": {"field": "vm"}, "color": {"field": "exp", "type": "nominal", "legend": null}}},
{"mark": {"type": "text", "align": "left", "baseline": "middle", "dx": -83, "dy": -16.5, "fontSize": 9.5}, "encoding": {"x": {"datum": 47.12, "axis": null}, "y": {"field": "row", "type": "quantitative", "axis": null}, "text": {"field": "vu"}, "color": {"field": "exp", "type": "nominal", "legend": null}}},
{"mark": {"type": "text", "align": "left", "baseline": "middle", "dx": -83, "dy": -4.5, "fontSize": 9.5}, "encoding": {"x": {"datum": 47.12, "axis": null}, "y": {"field": "row", "type": "quantitative", "axis": null}, "text": {"field": "vd"}, "color": {"field": "exp", "type": "nominal", "legend": null}}},
{"mark": {"type": "text", "align": "right", "baseline": "middle", "dy": -10, "fontSize": 13}, "encoding": {"x": {"datum": 47.12, "axis": null}, "y": {"field": "row", "type": "quantitative", "axis": null}, "text": {"field": "vt"}, "color": {"field": "exp", "type": "nominal", "legend": null}}}
]}
]},
{"spacing": 2, "vconcat": [
{"width": 394, "height": 48, "data": {"values": [{}]}, "layer": [
{"mark": {"type": "rect", "color": "#000", "clip": true}, "encoding": {"x": {"datum": 326.5, "type": "quantitative", "scale": {"domain": [0, 394], "nice": false, "zero": false}, "axis": null}, "x2": {"datum": 394}, "y": {"datum": 1, "type": "quantitative", "scale": {"domain": [0, 48], "reverse": true, "nice": false, "zero": false}, "axis": null}, "y2": {"datum": 21}}},
{"mark": {"type": "rect", "fill": "#fff", "stroke": "#000", "strokeWidth": 1.2, "clip": true}, "encoding": {"x": {"datum": 327, "axis": null}, "x2": {"datum": 397}, "y": {"datum": 21, "axis": null}, "y2": {"datum": 33}}},
{"mark": {"type": "text", "text": "H\u200aF\u200aA\u200aG", "fontWeight": "bold", "fontSize": 18.5, "color": "#22cc22", "align": "center", "baseline": "middle", "dx": -1.2, "clip": true}, "encoding": {"x": {"datum": 362, "axis": null}, "y": {"datum": 11.5, "axis": null}}},
{"mark": {"type": "text", "text": "H\u200aF\u200aA\u200aG", "fontWeight": "bold", "fontSize": 18.5, "color": "#ffffff", "align": "center", "baseline": "middle", "dx": 0.3, "clip": true}, "encoding": {"x": {"datum": 362, "axis": null}, "y": {"datum": 11.5, "axis": null}}},
{"mark": {"type": "text", "text": "ICHEP 2008", "fontSize": 11, "color": "#000", "align": "center", "baseline": "middle", "clip": true}, "encoding": {"x": {"datum": 362, "axis": null}, "y": {"datum": 27.3, "axis": null}}},
{"mark": {"type": "text", "text": "PRELIMINARY", "fontSize": 11, "color": "#333", "align": "center", "baseline": "middle", "clip": true}, "encoding": {"x": {"datum": 362, "axis": null}, "y": {"datum": 40.3, "axis": null}}},
{"mark": {"type": "text", "text": "K", "font": "Liberation Serif", "fontWeight": "bold", "fontSize": 28, "align": "left", "baseline": "alphabetic", "color": "#000", "clip": true}, "encoding": {"x": {"datum": 109, "axis": null}, "y": {"datum": 26, "axis": null}}},
{"mark": {"type": "text", "text": "+", "font": "Liberation Serif", "fontSize": 19, "align": "left", "baseline": "alphabetic", "color": "#000", "clip": true}, "encoding": {"x": {"datum": 130.8, "axis": null}, "y": {"datum": 15.5, "axis": null}}},
{"mark": {"type": "text", "text": "K", "font": "Liberation Serif", "fontWeight": "bold", "fontSize": 28, "align": "left", "baseline": "alphabetic", "color": "#000", "clip": true}, "encoding": {"x": {"datum": 148.5, "axis": null}, "y": {"datum": 26, "axis": null}}},
{"mark": {"type": "text", "text": "-", "font": "Liberation Serif", "fontSize": 19, "align": "left", "baseline": "alphabetic", "color": "#000", "clip": true}, "encoding": {"x": {"datum": 170.3, "axis": null}, "y": {"datum": 14.5, "axis": null}}},
{"mark": {"type": "text", "text": "K", "font": "Liberation Serif", "fontWeight": "bold", "fontSize": 28, "align": "left", "baseline": "alphabetic", "color": "#000", "clip": true}, "encoding": {"x": {"datum": 183.6, "axis": null}, "y": {"datum": 26, "axis": null}}},
{"mark": {"type": "text", "text": "S", "font": "Liberation Serif", "fontWeight": "bold", "fontSize": 19, "align": "left", "baseline": "alphabetic", "color": "#000", "clip": true}, "encoding": {"x": {"datum": 205.4, "axis": null}, "y": {"datum": 34, "axis": null}}},
{"mark": {"type": "text", "text": "β(φ", "font": "Liberation Serif", "fontSize": 28, "align": "left", "baseline": "alphabetic", "color": "#000", "clip": true}, "encoding": {"x": {"datum": 223, "axis": null}, "y": {"datum": 26, "axis": null}}},
{"mark": {"type": "text", "text": "K", "font": "Liberation Serif", "fontWeight": "bold", "fontSize": 28, "align": "left", "baseline": "alphabetic", "color": "#000", "clip": true}, "encoding": {"x": {"datum": 261, "axis": null}, "y": {"datum": 26, "axis": null}}},
{"mark": {"type": "text", "text": "S", "font": "Liberation Serif", "fontWeight": "bold", "fontSize": 19, "align": "left", "baseline": "alphabetic", "color": "#000", "clip": true}, "encoding": {"x": {"datum": 282.8, "axis": null}, "y": {"datum": 34, "axis": null}}},
{"mark": {"type": "text", "text": ")", "font": "Liberation Serif", "fontSize": 28, "align": "left", "baseline": "alphabetic", "color": "#000", "clip": true}, "encoding": {"x": {"datum": 293.5, "axis": null}, "y": {"datum": 26, "axis": null}}}
]},
{"width": 394, "height": 192, "data": {"name": "rows"}, "transform": [{"filter": {"field": "panel", "equal": "D"}}], "layer": [
{"transform": [{"filter": {"field": "exp", "equal": "Average"}}], "mark": {"type": "rect", "color": "#f0f000"}, "encoding": {"x": {"field": "lo", "type": "quantitative", "scale": {"domain": [-15.8, 39.9], "nice": false, "zero": false}, "axis": null}, "x2": {"field": "hi"}}},
{"transform": [{"filter": {"field": "exp", "equal": "Average"}}], "mark": {"type": "rule", "color": "#000", "strokeWidth": 1.5}, "encoding": {"x": {"field": "lo", "type": "quantitative", "axis": null}}},
{"transform": [{"filter": {"field": "exp", "equal": "Average"}}], "mark": {"type": "rule", "color": "#55552a", "strokeWidth": 2}, "encoding": {"x": {"field": "hi", "type": "quantitative", "axis": null}}},
{"transform": [{"filter": {"field": "exp", "equal": "Average"}}], "mark": {"type": "rule", "color": "#555", "strokeWidth": 1, "strokeDash": [1, 1.5]}, "encoding": {"x": {"field": "val", "type": "quantitative", "axis": null}}},
{"transform": [{"filter": {"field": "exp", "equal": "Average"}}], "mark": {"type": "rule", "color": "#e01010", "strokeWidth": 1, "strokeDash": [2, 2]}, "encoding": {"x": {"datum": 0, "type": "quantitative", "axis": null}}},
{"transform": [{"filter": {"field": "exp", "equal": "Average"}}], "mark": {"type": "text", "text": "HFAG", "angle": 270, "color": "#fff", "fontSize": 14, "align": "center", "baseline": "middle"}, "encoding": {"x": {"datum": 10.4, "axis": null}, "y": {"datum": 1.51, "axis": null}}},
{"transform": [{"filter": {"field": "exp", "equal": "Average"}}], "mark": {"type": "text", "text": "ICHEP 2008", "angle": 270, "color": "#fff", "fontSize": 12, "align": "center", "baseline": "middle"}, "encoding": {"x": {"datum": 15.9, "axis": null}, "y": {"datum": 1.51, "axis": null}}},
{"transform": [{"filter": {"field": "exp", "equal": "Average"}}], "mark": {"type": "rule", "color": "#222", "strokeWidth": 1.5}, "encoding": {"y": {"datum": 0, "axis": null}}},
{"transform": [{"filter": {"field": "exp", "equal": "Average"}}], "mark": {"type": "rule", "color": "#111", "strokeWidth": 1.5}, "encoding": {"y": {"datum": 3, "axis": null}}},
{"data": {"name": "ticks"}, "transform": [{"filter": {"field": "panel", "equal": "D"}}], "mark": {"type": "rule", "color": "#000", "strokeWidth": 1}, "encoding": {"x": {"field": "t", "type": "quantitative", "axis": null}, "y": {"datum": 3, "axis": null}, "y2": {"datum": 2.92}}},
{"data": {"name": "ticks"}, "transform": [{"filter": {"field": "panel", "equal": "D"}}], "mark": {"type": "rule", "color": "#000", "strokeWidth": 1}, "encoding": {"x": {"field": "t", "type": "quantitative", "axis": null}, "y": {"datum": 0, "axis": null}, "y2": {"datum": 0.08}}},
{"data": {"name": "ticks"}, "transform": [{"filter": {"field": "panel", "equal": "D"}}], "mark": {"type": "text", "align": "center", "baseline": "top", "dy": 6, "fontSize": 12.5, "color": "#222"}, "encoding": {"x": {"field": "t", "type": "quantitative", "axis": null}, "y": {"datum": 3, "axis": null}, "text": {"field": "lab"}}},
{"mark": {"type": "rule", "strokeWidth": 1.5}, "encoding": {"x": {"field": "lo", "type": "quantitative", "axis": null}, "x2": {"field": "hi"}, "y": {"field": "row", "type": "quantitative", "scale": {"domain": [0, 3], "reverse": true, "nice": false, "zero": false}, "axis": {"title": null, "labels": false, "ticks": false, "grid": false, "domain": true, "domainColor": "#000", "domainWidth": 1.2}}, "color": {"field": "exp", "type": "nominal", "scale": {"domain": ["BaBar", "Belle", "Average"], "range": ["#2b2bd6", "#1f8a1f", "#c41a1a"]}, "legend": null}}},
{"mark": {"type": "point", "shape": "M0,-1L0,1", "filled": false, "size": 100, "strokeWidth": 1.5, "opacity": 1}, "encoding": {"x": {"field": "lo", "type": "quantitative", "axis": null}, "y": {"field": "row", "type": "quantitative", "axis": null}, "color": {"field": "exp", "type": "nominal", "legend": null}}},
{"mark": {"type": "point", "shape": "M0,-1L0,1", "filled": false, "size": 100, "strokeWidth": 1.5, "opacity": 1}, "encoding": {"x": {"field": "hi", "type": "quantitative", "axis": null}, "y": {"field": "row", "type": "quantitative", "axis": null}, "color": {"field": "exp", "type": "nominal", "legend": null}}},
{"mark": {"type": "point", "shape": "M0,-1L0,1", "filled": false, "size": 56, "strokeWidth": 1.5, "opacity": 1}, "encoding": {"x": {"field": "slo", "type": "quantitative", "axis": null}, "y": {"field": "row", "type": "quantitative", "axis": null}, "color": {"field": "exp", "type": "nominal", "legend": null}}},
{"mark": {"type": "point", "shape": "M0,-1L0,1", "filled": false, "size": 56, "strokeWidth": 1.5, "opacity": 1}, "encoding": {"x": {"field": "shi", "type": "quantitative", "axis": null}, "y": {"field": "row", "type": "quantitative", "axis": null}, "color": {"field": "exp", "type": "nominal", "legend": null}}},
{"mark": {"type": "point", "shape": "M0,-1L0.2245,-0.309L0.951,-0.309L0.363,0.118L0.588,0.809L0,0.382L-0.588,0.809L-0.363,0.118L-0.951,-0.309L-0.2245,-0.309Z", "filled": true, "size": 120, "opacity": 1}, "encoding": {"x": {"field": "val", "type": "quantitative", "axis": null}, "y": {"field": "row", "type": "quantitative", "axis": null}, "color": {"field": "exp", "type": "nominal", "legend": null}}},
{"mark": {"type": "text", "align": "left", "baseline": "middle", "dy": -11, "fontSize": 17, "clip": true}, "encoding": {"x": {"datum": -12.9, "axis": null}, "y": {"field": "row", "type": "quantitative", "axis": null}, "text": {"field": "name"}, "color": {"field": "exp", "type": "nominal", "legend": null}}},
{"mark": {"type": "text", "align": "left", "baseline": "middle", "dy": 15, "fontSize": 13, "clip": true}, "encoding": {"x": {"datum": -12.9, "axis": null}, "y": {"field": "row", "type": "quantitative", "axis": null}, "text": {"field": "ref"}, "color": {"field": "exp", "type": "nominal", "legend": null}}},
{"mark": {"type": "text", "align": "right", "baseline": "middle", "dx": -88, "dy": -10, "fontSize": 13.5, "clip": true}, "encoding": {"x": {"datum": 40.55, "axis": null}, "y": {"field": "row", "type": "quantitative", "axis": null}, "text": {"field": "vm"}, "color": {"field": "exp", "type": "nominal", "legend": null}}},
{"mark": {"type": "text", "align": "left", "baseline": "middle", "dx": -83, "dy": -16.5, "fontSize": 9.5, "clip": true}, "encoding": {"x": {"datum": 40.55, "axis": null}, "y": {"field": "row", "type": "quantitative", "axis": null}, "text": {"field": "vu"}, "color": {"field": "exp", "type": "nominal", "legend": null}}},
{"mark": {"type": "text", "align": "left", "baseline": "middle", "dx": -83, "dy": -4.5, "fontSize": 9.5, "clip": true}, "encoding": {"x": {"datum": 40.55, "axis": null}, "y": {"field": "row", "type": "quantitative", "axis": null}, "text": {"field": "vd"}, "color": {"field": "exp", "type": "nominal", "legend": null}}},
{"mark": {"type": "text", "align": "right", "baseline": "middle", "dy": -10, "fontSize": 13, "clip": true}, "encoding": {"x": {"datum": 40.55, "axis": null}, "y": {"field": "row", "type": "quantitative", "axis": null}, "text": {"field": "vt"}, "color": {"field": "exp", "type": "nominal", "legend": null}}}
]}
]}
]}
]
}
